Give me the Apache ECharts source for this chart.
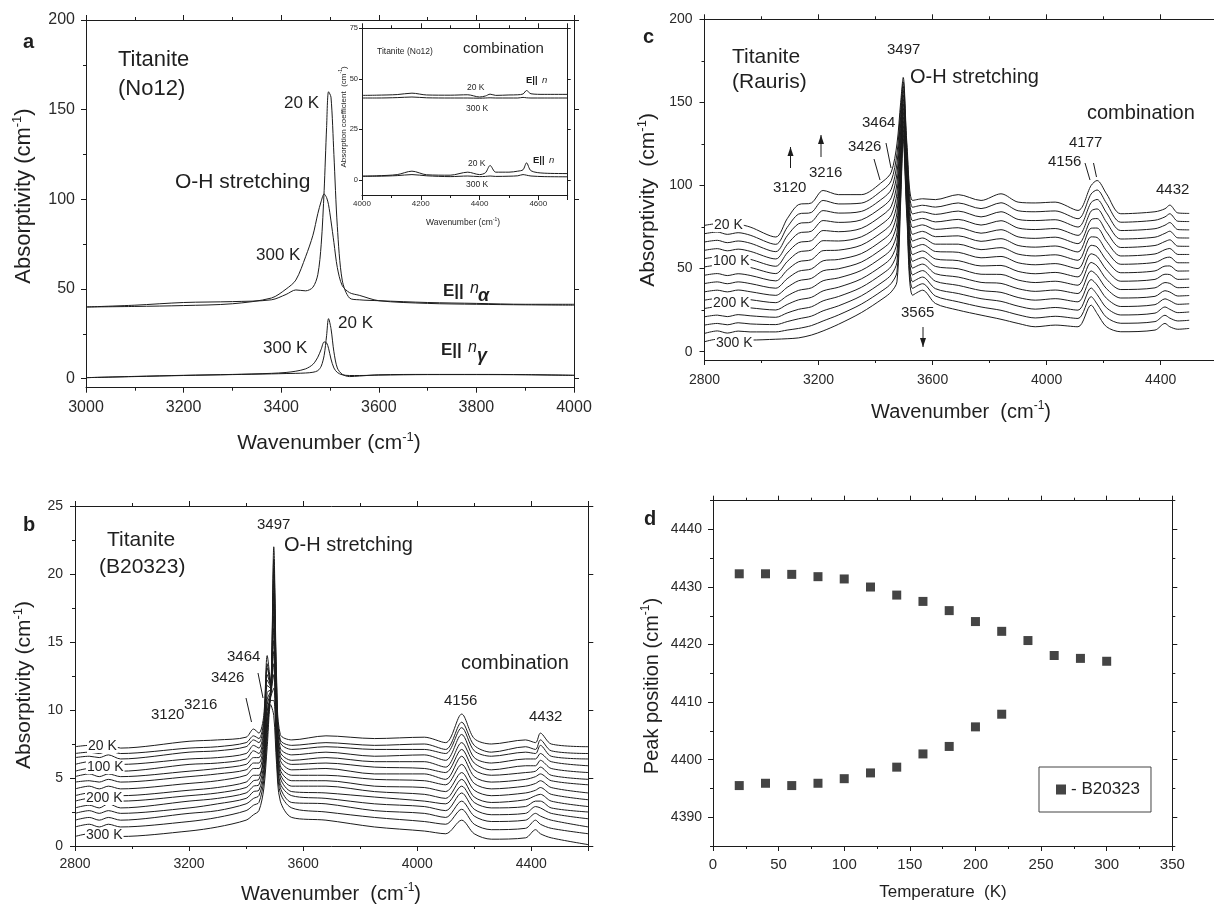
<!DOCTYPE html>
<html>
<head>
<meta charset="utf-8">
<script src="https://cdn.jsdelivr.net/npm/echarts@6.0.0/dist/echarts.min.js"></script>
<style>html,body{margin:0;padding:0;background:#fff}#chart{width:1214px;height:905px}</style>
</head>
<body>
<div id="chart"></div>
<script>
// ---------------- Panel a : Titanite (No12), O-H stretching ----------------
const aX = [3000, 3100, 3200, 3300, 3380, 3410, 3430, 3450, 3465, 3475, 3482, 3488, 3493, 3497, 3502, 3508, 3515, 3525, 3540, 3560, 3600, 3700, 3800, 3900, 4000];
const aAlpha20  = [40, 41, 42.5, 43, 44, 47, 49.5, 49, 51, 58, 75, 105, 140, 160, 157, 125, 85, 55, 45, 44, 43.5, 42.5, 42, 41.5, 41.5];
const aAlpha300 = [40, 40.3, 40.8, 41.8, 45, 50, 55, 68, 80, 92, 99, 103, 101, 97, 88, 76, 62, 52, 48, 46.5, 43.5, 42, 41.5, 41.2, 41];
const aGamma20  = [0.6, 1.2, 1.8, 2.3, 2.7, 2.9, 3.0, 3.2, 3.6, 4.5, 7, 13, 24, 33.5, 28, 15, 6, 2.5, 1.2, 1.5, 2.2, 2.4, 2.4, 2.3, 1.9];
const aGamma300 = [0.6, 1.3, 1.9, 2.4, 3.0, 3.5, 4.2, 5.5, 8, 12, 16.5, 20.5, 20, 17, 11, 6, 3.5, 2.2, 1.8, 1.8, 2.0, 2.3, 2.3, 2.2, 1.9];
const aYTicks = [0, 50, 100, 150, 200];

// ---------------- Inset of panel a : combination region ----------------
const insX = [4000, 4050, 4120, 4170, 4220, 4300, 4360, 4400, 4420, 4436, 4455, 4500, 4530, 4548, 4560, 4575, 4620, 4700];
const insUp20  = [41.8, 41.9, 42.2, 42.9, 42.0, 41.9, 42.1, 41.0, 41.5, 42.4, 41.8, 42.0, 42.1, 42.5, 44.2, 42.6, 42.3, 42.3];
const insUp300 = [40.5, 40.5, 40.7, 41.0, 40.6, 40.5, 40.5, 40.4, 40.5, 40.6, 40.5, 40.5, 40.5, 40.8, 40.6, 40.5, 40.5, 40.5];
const insLo20  = [1.8, 2.0, 2.6, 4.3, 2.5, 2.3, 3.8, 2.6, 3.5, 7.1, 3.8, 3.8, 4.3, 5.0, 8.4, 4.5, 3.3, 3.1];
const insLo300 = [1.8, 1.8, 2.1, 2.6, 2.0, 1.6, 1.9, 1.6, 1.7, 1.9, 1.7, 1.8, 2.0, 2.6, 2.3, 1.9, 1.6, 1.5];
const insYTicks = [0, 25, 50, 75];

// ---------------- Panel b : Titanite (B20323), 20 K (top) ... 300 K (bottom) ----------------
const bX = [2800, 2850, 2885, 2917, 2960, 3200, 3300, 3400, 3426, 3445, 3462, 3474, 3486, 3497, 3507, 3520, 3560, 3680, 3850, 4025, 4100, 4156, 4200, 4260, 4380, 4415, 4432, 4470, 4600];
const b020 = [7.3, 7.4, 7.3, 7.5, 7.2, 7.7, 7.8, 8.0, 8.6, 8.3, 9.6, 14.0, 12.0, 22.0, 12.3, 8.2, 7.8, 8.1, 7.9, 8.0, 7.6, 9.7, 7.9, 7.5, 7.8, 7.6, 8.3, 7.5, 7.3];
const b040 = [6.8, 6.9, 6.8, 7.0, 6.8, 7.2, 7.3, 7.6, 8.1, 7.9, 9.2, 13.4, 11.8, 21.1, 11.8, 7.8, 7.4, 7.6, 7.4, 7.5, 7.1, 9.1, 7.4, 6.9, 7.3, 7.1, 7.8, 7.0, 6.8];
const b060 = [6.5, 6.6, 6.5, 6.7, 6.4, 6.9, 7.0, 7.3, 7.8, 7.6, 8.9, 13.1, 11.9, 20.4, 11.5, 7.6, 7.1, 7.3, 7.1, 7.1, 6.8, 8.7, 7.0, 6.6, 6.9, 6.8, 7.4, 6.6, 6.4];
const b080 = [6.0, 6.2, 6.0, 6.2, 6.0, 6.4, 6.5, 6.8, 7.4, 7.2, 8.5, 12.6, 11.8, 19.5, 11.0, 7.2, 6.7, 6.9, 6.6, 6.7, 6.3, 8.2, 6.5, 6.1, 6.4, 6.4, 6.8, 6.2, 5.9];
const b100 = [5.5, 5.7, 5.5, 5.8, 5.5, 6.0, 6.1, 6.4, 7.0, 6.8, 8.2, 12.2, 11.7, 18.6, 10.6, 6.9, 6.3, 6.5, 6.2, 6.2, 5.8, 7.6, 6.1, 5.6, 5.9, 5.9, 6.3, 5.7, 5.4];
const b120 = [5.1, 5.3, 5.1, 5.3, 5.1, 5.5, 5.7, 6.0, 6.5, 6.5, 7.8, 11.8, 11.6, 17.8, 10.2, 6.6, 6.0, 6.1, 5.8, 5.7, 5.4, 7.1, 5.6, 5.2, 5.4, 5.5, 5.8, 5.2, 4.9];
const b140 = [4.7, 4.8, 4.7, 4.9, 4.7, 5.1, 5.3, 5.6, 6.1, 6.1, 7.5, 11.3, 11.5, 16.9, 9.8, 6.3, 5.6, 5.7, 5.3, 5.3, 4.9, 6.6, 5.1, 4.7, 4.9, 5.1, 5.3, 4.8, 4.5];
const b160 = [4.2, 4.4, 4.2, 4.4, 4.2, 4.6, 4.8, 5.2, 5.7, 5.7, 7.1, 10.8, 11.4, 16.0, 9.3, 5.9, 5.2, 5.2, 4.9, 4.8, 4.5, 6.0, 4.6, 4.2, 4.4, 4.6, 4.8, 4.3, 3.9];
const b180 = [3.7, 3.9, 3.7, 3.9, 3.7, 4.1, 4.3, 4.7, 5.2, 5.2, 6.7, 10.4, 11.3, 15.1, 8.9, 5.6, 4.8, 4.8, 4.4, 4.3, 4.0, 5.4, 4.1, 3.7, 3.9, 4.1, 4.3, 3.8, 3.4];
const b200 = [3.3, 3.5, 3.3, 3.5, 3.3, 3.7, 3.9, 4.3, 4.8, 4.9, 6.4, 9.9, 11.2, 14.3, 8.5, 5.3, 4.4, 4.4, 4.0, 3.8, 3.5, 4.9, 3.6, 3.2, 3.4, 3.7, 3.8, 3.3, 2.9];
const b220 = [2.8, 3.0, 2.8, 3.1, 2.8, 3.3, 3.5, 3.9, 4.4, 4.5, 6.0, 9.5, 11.1, 13.4, 8.1, 5.0, 4.0, 3.9, 3.6, 3.3, 3.1, 4.4, 3.2, 2.8, 2.9, 3.3, 3.3, 2.8, 2.5];
const b240 = [2.4, 2.6, 2.4, 2.6, 2.4, 2.8, 3.1, 3.5, 4.0, 4.1, 5.6, 9.1, 11.0, 12.6, 7.6, 4.6, 3.7, 3.5, 3.1, 2.9, 2.6, 3.9, 2.7, 2.3, 2.4, 2.9, 2.8, 2.4, 2.0];
const b260 = [1.9, 2.1, 1.9, 2.1, 1.9, 2.4, 2.6, 3.1, 3.5, 3.7, 5.2, 8.6, 10.9, 11.6, 7.2, 4.3, 3.2, 3.1, 2.6, 2.4, 2.1, 3.3, 2.2, 1.8, 1.9, 2.4, 2.2, 1.9, 1.4];
const b280 = [1.4, 1.6, 1.4, 1.6, 1.4, 1.8, 2.1, 2.6, 3.0, 3.2, 4.8, 8.0, 10.7, 10.7, 6.7, 3.9, 2.8, 2.5, 2.1, 1.8, 1.6, 2.7, 1.6, 1.2, 1.3, 1.9, 1.6, 1.3, 0.9];
const b300 = [0.7, 0.9, 0.7, 0.9, 0.7, 1.1, 1.4, 1.9, 2.3, 2.6, 4.2, 7.3, 10.4, 9.6, 6.0, 3.3, 2.1, 1.9, 1.4, 1.1, 0.9, 1.9, 0.9, 0.5, 0.6, 1.2, 0.9, 0.6, 0.1];
const bYTicks = [0, 5, 10, 15, 20, 25];

// ---------------- Panel c : Titanite (Rauris), 20 K (top) ... 300 K (bottom) ----------------
const cX = [2800, 2845, 2880, 2918, 2960, 3050, 3090, 3130, 3175, 3216, 3270, 3350, 3426, 3455, 3475, 3488, 3497, 3510, 3530, 3565, 3610, 3690, 3770, 3840, 3900, 3960, 4030, 4110, 4156, 4177, 4210, 4260, 4380, 4415, 4432, 4460, 4500];
const c020 = [76, 77, 75.5, 76.5, 75, 69, 80, 88.5, 89.5, 97, 94.5, 94.5, 102.5, 108, 125, 150, 165, 125, 91, 92, 91.5, 94.5, 91, 95, 90, 89.5, 90, 85, 100, 103, 95, 83, 84.2, 86, 88.2, 83.5, 83.2];
const c040 = [71, 72, 70.6, 71.6, 70.1, 64.6, 74.8, 82.8, 83.8, 91, 88.9, 89.4, 97.5, 102.9, 119.1, 145.7, 162.4, 121.8, 86.9, 88.1, 87, 89.5, 86.1, 89.6, 84.8, 84.2, 84.7, 80, 94.9, 97.3, 89.3, 77.9, 79.1, 81.1, 83, 78.5, 78.3];
const c060 = [66, 67, 65.6, 66.6, 65.3, 60.2, 69.7, 77, 78.1, 84.9, 83.4, 84.4, 92.4, 97.7, 113.1, 141.4, 159.7, 118.6, 82.9, 84.1, 82.6, 84.6, 81.1, 84.2, 79.6, 78.9, 79.4, 75, 89.7, 91.6, 83.6, 72.9, 74, 76.1, 77.7, 73.5, 73.3];
const c080 = [61, 62, 60.7, 61.7, 60.4, 55.8, 64.5, 71.3, 72.5, 78.9, 77.8, 79.3, 87.4, 92.6, 107.2, 137.1, 157.1, 115.4, 78.8, 80.2, 78.1, 79.6, 76.2, 78.8, 74.4, 73.5, 74.1, 70, 84.6, 85.9, 77.9, 67.8, 68.9, 71.2, 72.5, 68.5, 68.4];
const c100 = [56, 57, 55.7, 56.8, 55.6, 51.4, 59.4, 65.6, 66.8, 72.9, 72.2, 74.2, 82.4, 87.4, 101.3, 132.9, 154.4, 112.1, 74.7, 76.3, 73.6, 74.6, 71.3, 73.4, 69.1, 68.2, 68.9, 65, 79.4, 80.1, 72.1, 62.7, 63.9, 66.3, 67.3, 63.5, 63.4];
const c120 = [51, 52, 50.8, 51.9, 50.7, 47, 54.2, 59.9, 61.2, 66.8, 66.6, 69.1, 77.3, 82.3, 95.4, 128.6, 151.8, 108.9, 70.6, 72.4, 69.2, 69.7, 66.4, 68, 63.9, 62.9, 63.6, 60, 74.3, 74.4, 66.4, 57.6, 58.8, 61.4, 62.1, 58.5, 58.5];
const c140 = [46, 47, 45.8, 46.9, 45.9, 42.6, 49.1, 54.1, 55.4, 60.8, 61.1, 64.1, 72.3, 77.1, 89.4, 124.3, 149.1, 105.7, 66.6, 68.4, 64.7, 64.7, 61.4, 62.6, 58.7, 57.6, 58.3, 55, 69.1, 68.7, 60.7, 52.6, 53.7, 56.4, 56.9, 53.5, 53.5];
const c160 = [41, 42, 40.9, 42, 41, 38.2, 43.9, 48.4, 49.8, 54.7, 55.5, 59, 67.3, 72, 83.5, 120, 146.5, 102.5, 62.5, 64.5, 60.3, 59.8, 56.5, 57.3, 53.5, 52.3, 53, 50, 64, 63, 55, 47.5, 48.6, 51.5, 51.6, 48.5, 48.6];
const c180 = [36, 37, 36, 37.1, 36.1, 33.9, 38.7, 42.7, 44.1, 48.7, 49.9, 53.9, 62.2, 66.9, 77.6, 115.7, 143.9, 99.3, 58.4, 60.6, 55.8, 54.8, 51.6, 51.9, 48.3, 46.9, 47.7, 45, 58.9, 57.3, 49.3, 42.4, 43.5, 46.6, 46.4, 43.5, 43.7];
const c200 = [31, 32, 31, 32.1, 31.3, 29.5, 33.6, 36.9, 38.4, 42.7, 44.4, 48.9, 57.2, 61.7, 71.6, 111.4, 141.2, 96.1, 54.4, 56.6, 51.3, 49.9, 46.6, 46.5, 43.1, 41.6, 42.4, 40, 53.7, 51.6, 43.6, 37.4, 38.4, 41.6, 41.1, 38.5, 38.7];
const c220 = [26, 27, 26.1, 27.2, 26.4, 25.1, 28.4, 31.2, 32.7, 36.6, 38.8, 43.8, 52.1, 56.6, 65.7, 107.1, 138.6, 92.9, 50.3, 52.7, 46.9, 44.9, 41.7, 41.1, 37.9, 36.3, 37.1, 35, 48.6, 45.9, 37.9, 32.3, 33.3, 36.7, 35.9, 33.5, 33.8];
const c240 = [21, 22, 21.1, 22.3, 21.6, 20.7, 23.3, 25.5, 27, 30.6, 33.2, 38.7, 47.1, 51.4, 59.8, 102.9, 135.9, 89.6, 46.2, 48.8, 42.4, 39.9, 36.8, 35.7, 32.6, 31, 31.9, 30, 43.4, 40.1, 32.1, 27.2, 28.3, 31.8, 30.7, 28.5, 28.8];
const c260 = [16, 17, 16.2, 17.4, 16.7, 16.3, 18.1, 19.8, 21.4, 24.6, 27.6, 33.6, 42.1, 46.3, 53.9, 98.6, 133.3, 86.4, 42.1, 44.9, 37.9, 35, 31.9, 30.3, 27.4, 25.6, 26.6, 25, 38.3, 34.4, 26.4, 22.1, 23.2, 26.9, 25.5, 23.5, 23.9];
const c280 = [11, 12.5, 11.2, 12.4, 11.9, 11.9, 13, 14, 15.7, 18.5, 22.1, 28.6, 37, 41.1, 47.9, 94.3, 130.6, 83.2, 38.1, 40.9, 33.5, 30, 26.9, 24.9, 22.2, 20.3, 21.3, 20, 33.1, 28.7, 20.7, 17.1, 18.1, 21.9, 20.2, 18.5, 18.9];
const c300 = [6, 7.5, 6.3, 7.5, 7, 7.5, 7.8, 8.3, 10, 12.5, 16.5, 23.5, 32, 36, 42, 90, 128, 80, 34, 37, 29, 25, 22, 19.5, 17, 15, 16, 15, 28, 23, 15, 12, 13, 17, 15, 13.5, 14];
const cYTicks = [0, 50, 100, 150, 200];

// ---------------- Panel d : peak position vs temperature ----------------
const dTempUpper = [20, 40, 60, 80, 100, 120, 140, 160, 180, 200, 220, 240, 260, 280, 300];
const dPeakUpper = [4432.3, 4432.3, 4432.2, 4431.8, 4431.4, 4430.0, 4428.6, 4427.5, 4425.9, 4424.0, 4422.3, 4420.7, 4418.1, 4417.6, 4417.1];
const dTempLower = [20, 40, 60, 80, 100, 120, 140, 160, 180, 200, 220];
const dPeakLower = [4395.5, 4395.9, 4395.5, 4395.9, 4396.7, 4397.7, 4398.7, 4401.0, 4402.3, 4405.7, 4407.9];
const dYTicks = [4390, 4400, 4410, 4420, 4430, 4440];
const dYMinor = [4385, 4395, 4405, 4415, 4425, 4435, 4445];

// ---------------- helpers ----------------
const FONT = '"Liberation Sans", Arial, Helvetica, sans-serif';
const INK = '#1c1c1c';
const LBL = '#2a2a2a';
const plain = v => String(v);

const xAxes = [], yAxes = [];
function addX(a) { xAxes.push(a); return xAxes.length - 1; }
function addY(a) { yAxes.push(a); return yAxes.length - 1; }

function xA(grid, pos, min, max, interval, minor, label) {
  return {
    type: 'value', gridIndex: grid, position: pos, min: min, max: max, interval: interval,
    axisLine: { show: true, onZero: false, lineStyle: { color: INK, width: 1 } },
    axisTick: { show: true, inside: false, length: 5, lineStyle: { color: INK, width: 1 } },
    minorTick: { show: !!minor, splitNumber: minor || 5, length: 3, lineStyle: { color: INK, width: 1 } },
    splitLine: { show: false }, minorSplitLine: { show: false },
    axisLabel: label ? Object.assign({ show: true, color: LBL, fontFamily: FONT, hideOverlap: false, formatter: plain }, label) : { show: false }
  };
}
function yA(grid, pos, min, max, ticks, len, label, showLine) {
  return {
    type: 'value', gridIndex: grid, position: pos, min: min, max: max,
    axisLine: { show: showLine !== false, onZero: false, lineStyle: { color: INK, width: 1 } },
    axisTick: { show: true, inside: false, length: len, customValues: ticks, lineStyle: { color: INK, width: 1 } },
    minorTick: { show: false }, splitLine: { show: false }, minorSplitLine: { show: false },
    axisLabel: label ? Object.assign({ show: true, color: LBL, fontFamily: FONT, customValues: ticks, hideOverlap: false, formatter: plain }, label) : { show: false }
  };
}
function mids(t) { const r = []; for (let i = 0; i < t.length - 1; i++) r.push((t[i] + t[i + 1]) / 2); return r; }

const series = [];
function addLine(xi, yi, xs, ys, w) {
  series.push({
    type: 'line', xAxisIndex: xi, yAxisIndex: yi, data: xs.map((x, i) => [x, ys[i]]),
    showSymbol: false, symbol: 'none', smooth: 0.3, silent: true, animation: false,
    lineStyle: { color: INK, width: w || 1 }, z: 2
  });
}

// ---------------- grids ----------------
const grids = [
  { left: 86, top: 20, width: 488, height: 367.7 },          // a
  { left: 362, top: 28.3, width: 205.7, height: 166.7 },     // inset
  { left: 75, top: 506, width: 513.3, height: 340 },         // b
  { left: 704.5, top: 19.3, width: 513.2, height: 340.7 },   // c
  { left: 713, top: 500.7, width: 459.3, height: 345.3 }     // d
].map(g => Object.assign({ show: false, containLabel: false, outerBoundsMode: 'none' }, g));

// panel a axes
const axA = addX(xA(0, 'bottom', 3000, 4000, 200, 2, { fontSize: 16, margin: 12 }));
addX(xA(0, 'top', 3000, 4000, 200, 2, null));
const ayA = addY(yA(0, 'left', -5, 200, aYTicks, 5, { fontSize: 16, margin: 11 }));
addY(yA(0, 'left', -5, 200, mids(aYTicks), 3, null, false));
addY(yA(0, 'right', -5, 200, aYTicks, 5, null));
// inset axes
const axI = addX(xA(1, 'bottom', 4000, 4700, 200, 2, { fontSize: 8, margin: 5, showMaxLabel: false }));
addX(xA(1, 'top', 4000, 4700, 200, 2, null));
const ayI = addY(yA(1, 'left', -7.5, 75, insYTicks, 3, { fontSize: 7.5, margin: 4 }));
addY(yA(1, 'right', -7.5, 75, insYTicks, 3, null));
// panel b axes
const axB = addX(xA(2, 'bottom', 2800, 4600, 400, 2, { fontSize: 14, margin: 11, showMaxLabel: false }));
addX(xA(2, 'top', 2800, 4600, 400, 2, null));
const ayB = addY(yA(2, 'left', 0, 25, bYTicks, 5, { fontSize: 14, margin: 12 }));
addY(yA(2, 'left', 0, 25, mids(bYTicks), 3, null, false));
addY(yA(2, 'right', 0, 25, bYTicks, 5, null));
// panel c axes
const axC = addX(xA(3, 'bottom', 2800, 4600, 400, 2, { fontSize: 14, margin: 13, showMaxLabel: false }));
addX(xA(3, 'top', 2800, 4600, 400, 2, null));
const ayC = addY(yA(3, 'left', -5, 200, cYTicks, 5, { fontSize: 14, margin: 12 }));
addY(yA(3, 'left', -5, 200, mids(cYTicks), 3, null, false));
// panel d axes
const axD = addX(xA(4, 'bottom', 0, 350, 50, 2, { fontSize: 15, margin: 11 }));
addX(xA(4, 'top', 0, 350, 50, 2, null));
const ayD = addY(yA(4, 'left', 4385, 4445, dYTicks, 5, { fontSize: 14, margin: 11 }));
addY(yA(4, 'left', 4385, 4445, dYMinor, 3, null, false));
addY(yA(4, 'right', 4385, 4445, dYTicks, 5, null));
addY(yA(4, 'right', 4385, 4445, dYMinor, 3, null, false));

// ---------------- series ----------------
addLine(axA, ayA, aX, aAlpha20);
addLine(axA, ayA, aX, aAlpha300);
addLine(axA, ayA, aX, aGamma20);
addLine(axA, ayA, aX, aGamma300);
addLine(axI, ayI, insX, insUp20, 1);
addLine(axI, ayI, insX, insUp300, 1);
addLine(axI, ayI, insX, insLo20, 1);
addLine(axI, ayI, insX, insLo300, 1);
[b020, b040, b060, b080, b100, b120, b140, b160, b180, b200, b220, b240, b260, b280, b300]
  .forEach(ys => addLine(axB, ayB, bX, ys, 1));
[c020, c040, c060, c080, c100, c120, c140, c160, c180, c200, c220, c240, c260, c280, c300]
  .forEach(ys => addLine(axC, ayC, cX, ys, 1));
series.push({
  type: 'scatter', name: 'B20323', xAxisIndex: axD, yAxisIndex: ayD, symbol: 'rect', symbolSize: 9,
  itemStyle: { color: '#151515' }, animation: false, silent: true,
  data: dTempUpper.map((t, i) => [t, dPeakUpper[i]]).concat(dTempLower.map((t, i) => [t, dPeakLower[i]]))
});

// ---------------- text annotations ----------------
const G = [];
function txt(x, y, s, size, o) {
  o = o || {};
  const st = { text: s, fontSize: size, fontFamily: FONT, fontWeight: o.bold ? 'bold' : 'normal',
    fontStyle: o.italic ? 'italic' : 'normal', fill: '#1f1f1f', align: o.align || 'left', verticalAlign: 'middle' };
  if (o.bg) { st.backgroundColor = o.bg; st.padding = [0, 1, 0, 1]; }
  if (o.rich) st.rich = o.rich;
  G.push({ type: 'text', x: x, y: y, rotation: o.rot || 0, z: 50, silent: true, style: st });
}
function supText(x, y, main, tail, size, rot) {
  const sub = Math.round(size * 0.6);
  txt(x, y, '{m|' + main + '}{s|-1}{m|' + tail + '}', size, {
    align: 'center', rot: rot,
    rich: { m: { fontSize: size, fontFamily: FONT, fill: '#1f1f1f', lineHeight: size + 4 },
            s: { fontSize: sub, fontFamily: FONT, fill: '#1f1f1f', verticalAlign: 'top' } }
  });
}
function seg(x1, y1, x2, y2) {
  G.push({ type: 'line', z: 50, silent: true, shape: { x1: x1, y1: y1, x2: x2, y2: y2 }, style: { stroke: INK, lineWidth: 1 } });
}
function arrow(x, yTail, yHead) {
  seg(x, yTail, x, yHead);
  const d = yHead < yTail ? 1 : -1;
  G.push({ type: 'polygon', z: 50, silent: true, shape: { points: [[x, yHead], [x - 3, yHead + d * 9], [x + 3, yHead + d * 9]] }, style: { fill: INK } });
}
const R90 = Math.PI / 2;

// panel a
txt(23, 42, 'a', 20, { bold: true });
txt(118, 60, 'Titanite', 22);
txt(118, 89, '(No12)', 22);
txt(284, 103, '20 K', 17);
txt(175, 182, 'O-H stretching', 21);
txt(256, 255, '300 K', 17);
txt(443, 291, 'E||', 17, { bold: true });
txt(470, 289, 'n', 16, { italic: true });
txt(478, 296, 'α', 18, { bold: true, italic: true });
txt(338, 323, '20 K', 17);
txt(263, 348, '300 K', 17);
txt(441, 350, 'E||', 17, { bold: true });
txt(468, 348, 'n', 16, { italic: true });
txt(477, 356, 'γ', 18, { bold: true, italic: true });
supText(24, 196, 'Absorptivity (cm', ')', 22, R90);
supText(329, 443, 'Wavenumber (cm', ')', 21, 0);
// inset
txt(377, 52, 'Titanite (No12)', 8.5);
txt(463, 49, 'combination', 15);
txt(467, 88, '20 K', 8.5);
txt(466, 109, '300 K', 8.5);
txt(526, 80, 'E||', 9.5, { bold: true });
txt(542, 80, 'n', 9.5, { italic: true });
txt(468, 164, '20 K', 8.5);
txt(466, 185, '300 K', 8.5);
txt(533, 160, 'E||', 9.5, { bold: true });
txt(549, 160, 'n', 9.5, { italic: true });
supText(344, 117, 'Absorption coefficient  (cm', ')', 8, R90);
supText(463, 223, 'Wavenumber (cm', ')', 8.5, 0);

// panel b
txt(23, 525, 'b', 20, { bold: true });
txt(107, 540, 'Titanite', 21);
txt(99, 567, '(B20323)', 21);
txt(257, 525, '3497', 15);
txt(284, 545, 'O-H stretching', 20);
txt(227, 657, '3464', 15);
txt(211, 678, '3426', 15);
txt(184, 705, '3216', 15);
txt(151, 715, '3120', 15);
txt(461, 663, 'combination', 20);
txt(444, 701, '4156', 15);
txt(529, 717, '4432', 15);
seg(246, 698, 251.5, 722);
seg(258, 673, 263, 698);
txt(87, 746, '20 K', 14, { bg: '#fff' });
txt(86, 767, '100 K', 14, { bg: '#fff' });
txt(85, 798, '200 K', 14, { bg: '#fff' });
txt(85, 835, '300 K', 14, { bg: '#fff' });
supText(24, 685, 'Absorptivity (cm', ')', 21, R90);
supText(331, 894, 'Wavenumber  (cm', ')', 20, 0);

// panel c
txt(643, 37, 'c', 20, { bold: true });
txt(732, 57, 'Titanite', 21);
txt(732, 82, '(Rauris)', 21);
txt(887, 50, '3497', 15);
txt(910, 77, 'O-H stretching', 20);
txt(1087, 113, 'combination', 20);
txt(862, 123, '3464', 15);
txt(848, 147, '3426', 15);
txt(809, 173, '3216', 15);
txt(773, 188, '3120', 15);
txt(1069, 143, '4177', 15);
txt(1048, 162, '4156', 15);
txt(1156, 190, '4432', 15);
txt(901, 313, '3565', 15);
seg(874, 159, 880, 180);
seg(886, 143, 891, 168);
seg(1085, 163, 1090, 180);
seg(1093.5, 163, 1096.5, 177);
arrow(790.5, 168, 147);
arrow(821, 157, 135);
arrow(923, 327, 347);
txt(713, 225, '20 K', 14, { bg: '#fff' });
txt(712, 261, '100 K', 14, { bg: '#fff' });
txt(712, 303, '200 K', 14, { bg: '#fff' });
txt(715, 343, '300 K', 14, { bg: '#fff' });
supText(648, 200, 'Absorptivity  (cm', ')', 21, R90);
supText(961, 412, 'Wavenumber  (cm', ')', 20, 0);

// panel d
txt(644, 519, 'd', 20, { bold: true });
supText(652, 686, 'Peak position (cm', ')', 20, R90);
txt(943, 892, 'Temperature  (K)', 17, { align: 'center' });

// ---------------- chart ----------------
const chart = echarts.init(document.getElementById('chart'), null, { renderer: 'canvas', width: 1214, height: 905 });
chart.setOption({
  animation: false,
  backgroundColor: '#ffffff',
  grid: grids,
  xAxis: xAxes,
  yAxis: yAxes,
  legend: {
    show: true, data: ['B20323'], left: 1039, top: 767, orient: 'horizontal',
    padding: [14, 11, 14, 17], itemWidth: 10, itemHeight: 10, icon: 'rect', selectedMode: false,
    borderColor: '#444', borderWidth: 1, backgroundColor: '#fff', formatter: '- {name}',
    textStyle: { fontSize: 17, fontFamily: FONT, color: '#222' }
  },
  series: series,
  graphic: { elements: G }
});
</script>
</body>
</html>
